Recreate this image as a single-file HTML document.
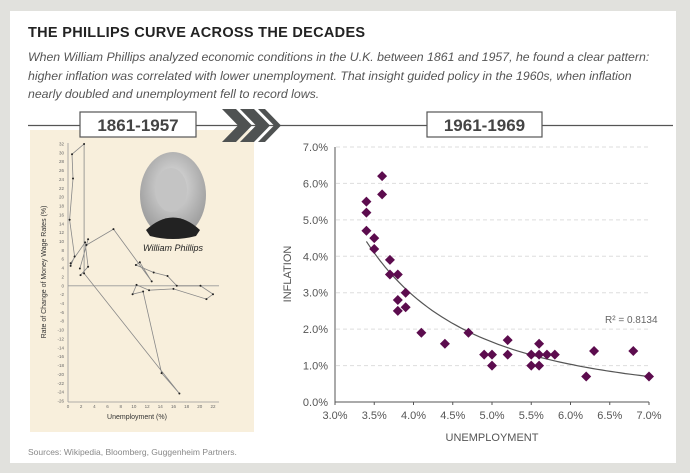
<!DOCTYPE html>
<html><head><meta charset="utf-8">
<style>
html,body{margin:0;padding:0}
body{width:690px;height:473px;background:#e1e1dd;font-family:"Liberation Sans",sans-serif;position:relative;overflow:hidden}
#card{position:absolute;left:10px;top:11px;width:666px;height:452px;background:#fff}
.t{position:absolute;white-space:nowrap}
</style></head><body>
<div id="card"></div>
<div class="t" style="left:28px;top:25px;font-size:14.5px;font-weight:bold;color:#222;letter-spacing:0.3px">THE PHILLIPS CURVE ACROSS THE DECADES</div>
<div class="t" style="left:28px;top:48px;font-size:12.3px;font-style:italic;color:#555;line-height:18.5px">When William Phillips analyzed economic conditions in the U.K. between 1861 and 1957, he found a clear pattern:<br>higher inflation was correlated with lower unemployment. That insight guided policy in the 1960s, when inflation<br>nearly doubled and unemployment fell to record lows.</div>
<div class="t" style="left:28px;top:447px;font-size:8.5px;color:#888">Sources: Wikipedia, Bloomberg, Guggenheim Partners.</div>

<svg width="690" height="473" style="position:absolute;left:0;top:0" xmlns="http://www.w3.org/2000/svg" font-family="Liberation Sans, sans-serif">
 <rect x="30" y="130" width="224" height="302" fill="#f8efdc"/>
 <line x1="28" y1="125.5" x2="673" y2="125.5" stroke="#555" stroke-width="1.3"/>
 <g>
  <rect x="80" y="112" width="116" height="25" fill="#fff" stroke="#555" stroke-width="1.2"/>
  <text x="138" y="131" text-anchor="middle" font-size="17" font-weight="bold" fill="#444">1861-1957</text>
 </g>
 <g fill="#4f5252">
  <polygon points="222,109 236,109 252,125.5 236,142 222,142 238,125.5"/>
  <polygon points="240,109 254,109 270,125.5 254,142 240,142 256,125.5"/>
  <polygon points="258,109 265,109 281,125.5 265,142 258,142 274,125.5"/>
 </g>
 <g>
  <rect x="427" y="112" width="115" height="25" fill="#fff" stroke="#555" stroke-width="1.2"/>
  <text x="484.5" y="131" text-anchor="middle" font-size="17" font-weight="bold" fill="#444">1961-1969</text>
 </g>
 <g>
  <defs><radialGradient id="pg" cx="50%" cy="40%" r="60%"><stop offset="0" stop-color="#e4e4e4"/><stop offset="1" stop-color="#9a9a9a"/></radialGradient></defs>
  <ellipse cx="173" cy="195" rx="33" ry="43" fill="url(#pg)"/>
  <ellipse cx="171" cy="190" rx="16" ry="22" fill="#c4c4c4"/>
  <path d="M146 230 Q173 205 200 230 L196 236 Q173 242 150 236Z" fill="#222"/>
 </g>
 <text x="173" y="251" text-anchor="middle" font-size="9" font-style="italic" fill="#222">William Phillips</text>
 <g id="left"></g>
 <g id="right"></g>
</svg>
<script>
const NS="http://www.w3.org/2000/svg";
function mk(p,tag,a){const e=document.createElementNS(NS,tag);for(const k in a)e.setAttribute(k,a[k]);p.appendChild(e);return e;}

// ---- left chart data (Phillips original, 1861-1957) ----
const histUnemp=[1.9,3.05,2.6,0.4,0.4,1.0,0.25,0.76,0.61,2.44,2.44,16.9,14.2,11.4,9.8,10.4,12.3,16,21,22,20.1,16.5,15.1,13,10.3,10.9,12.7,6.9,2.8,3.05,1.8];
const histWage=[2.4,4.3,9.8,5.1,4.5,6.6,14.9,24.2,29.7,32,2.8,-24.3,-19.7,-1.3,-1.9,0.2,-1.0,-0.7,-3,-1.9,0,0,2.2,3,4.7,5.3,1,12.8,9.2,10.5,3.9];
const histYTicks=[-26,-24,-22,-20,-18,-16,-14,-12,-10,-8,-6,-4,-2,0,2,4,6,8,10,12,14,16,18,20,22,24,26,28,30,32];
const histXTicks=[0,2,4,6,8,10,12,14,16,18,20,22];

const L=document.getElementById('left');
const lx=v=>68+v*(213-68)/22, ly=v=>144+(32-v)*(401-144)/58;
let ya=mk(L,'line',{x1:68,y1:143,x2:68,y2:402,stroke:'#999','stroke-width':0.8});

let xa=mk(L,'line',{x1:68,y1:402,x2:219,y2:402,stroke:'#999','stroke-width':0.8});

let zl=mk(L,'line',{x1:68,y1:ly(0),x2:219,y2:ly(0),stroke:'#999','stroke-width':0.8});

histYTicks.forEach(v=>{const t=mk(L,'text',{x:64,y:ly(v)+1.5,'text-anchor':'end','font-size':4.5,fill:'#666'});t.textContent=v;
 });
histXTicks.forEach(v=>{const t=mk(L,'text',{x:lx(v),y:408,'text-anchor':'middle','font-size':4.5,fill:'#666'});t.textContent=v;
 });
let lt=mk(L,'text',{x:137,y:419,'text-anchor':'middle','font-size':7,fill:'#333'});lt.textContent='Unemployment (%)';

let lyt=mk(L,'text',{x:0,y:0,'text-anchor':'middle','font-size':7,fill:'#333',transform:'translate(46,272) rotate(-90)'});lyt.textContent='Rate of Change of Money Wage Rates (%)';

let pd=histUnemp.map((u,i)=>(i?'L':'M')+lx(u).toFixed(1)+' '+ly(histWage[i]).toFixed(1)).join(' ');
let lp=mk(L,'path',{d:pd,fill:'none',stroke:'#888','stroke-width':0.8});

histUnemp.forEach((u,i)=>{const c=mk(L,'circle',{cx:lx(u),cy:ly(histWage[i]),r:1,fill:'#222'});
 });

// ---- right chart data (1961-1969) ----
const unemp=[3.4,3.4,3.4,3.5,3.5,3.6,3.6,3.7,3.7,3.8,3.8,3.8,3.9,3.9,4.1,4.4,4.7,4.9,5.0,5.0,5.2,5.2,5.5,5.5,5.6,5.6,5.6,5.7,5.8,6.2,6.3,6.8,7.0];
const infl=[5.5,5.2,4.7,4.5,4.2,6.2,5.7,3.9,3.5,3.5,2.8,2.5,3.0,2.6,1.9,1.6,1.9,1.3,1.3,1.0,1.7,1.3,1.3,1.0,1.6,1.3,1.0,1.3,1.3,0.7,1.4,1.4,0.7];
const xTicks=[3.0,3.5,4.0,4.5,5.0,5.5,6.0,6.5,7.0];
const yTicks=[0,1,2,3,4,5,6,7];
const rSquared='0.8134';

const R=document.getElementById('right');
const X=v=>335+(v-3)*(649-335)/4, Y=v=>402-v*(402-147)/7;
yTicks.forEach(v=>{
 if(v>0){const g=mk(R,'line',{x1:336,y1:Y(v),x2:649,y2:Y(v),stroke:'#ddd','stroke-dasharray':'4,3','stroke-width':1});
  }
 const t=mk(R,'text',{x:328,y:Y(v)+4,'text-anchor':'end','font-size':11,fill:'#555'});t.textContent=v.toFixed(1)+'%';
 
});
let ay=mk(R,'line',{x1:335,y1:147,x2:335,y2:402,stroke:'#555','stroke-width':1});

let ax=mk(R,'line',{x1:335,y1:402,x2:649,y2:402,stroke:'#555','stroke-width':1});

xTicks.forEach(v=>{
 const k=mk(R,'line',{x1:X(v),y1:402,x2:X(v),y2:405,stroke:'#555'});
 
 const t=mk(R,'text',{x:X(v),y:419,'text-anchor':'middle','font-size':11,fill:'#555'});t.textContent=v.toFixed(1)+'%';
 
});
let xt=mk(R,'text',{x:492,y:441,'text-anchor':'middle','font-size':11,fill:'#555'});xt.textContent='UNEMPLOYMENT';

let yt=mk(R,'text',{x:0,y:0,'text-anchor':'middle','font-size':11,fill:'#555',transform:'translate(291,274) rotate(-90)'});yt.textContent='INFLATION';

// power-law trend fit in log space
let n=unemp.length,sx=0,sy=0,sxx=0,sxy=0;
unemp.forEach((u,i)=>{const a=Math.log(u),b=Math.log(infl[i]);sx+=a;sy+=b;sxx+=a*a;sxy+=a*b;});
const bb=(n*sxy-sx*sy)/(n*sxx-sx*sx), aa=Math.exp((sy-bb*sx)/n);
const minU=Math.min(...unemp),maxU=Math.max(...unemp);
let td='';for(let i=0;i<=60;i++){const u=minU+(maxU-minU)*i/60;td+=(i?'L':'M')+X(u).toFixed(1)+' '+Y(aa*Math.pow(u,bb)).toFixed(1);}
let tl=mk(R,'path',{d:td,fill:'none',stroke:'#555','stroke-width':1.2});

unemp.forEach((u,i)=>{const x=X(u),y=Y(infl[i]),s=5;
 const p=mk(R,'polygon',{points:`${x},${y-s} ${x+s},${y} ${x},${y+s} ${x-s},${y}`,fill:'#5c0c4e'});
 });
let rl=mk(R,'text',{x:605,y:323,'font-size':10,fill:'#666'});rl.textContent='R² = '+rSquared;

</script>
</body></html>
